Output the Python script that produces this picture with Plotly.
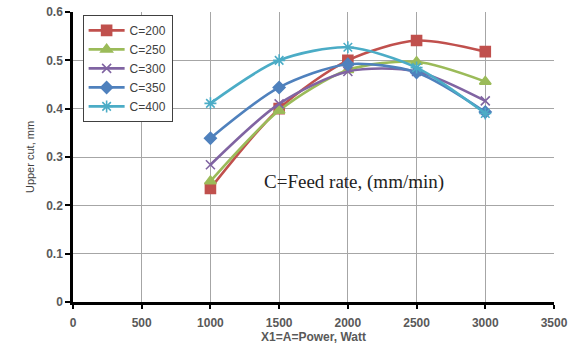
import plotly.graph_objects as go

# Upper cut vs laser power for several feed rates
power = [1000, 1500, 2000, 2500, 3000]
c200 = [0.235, 0.400, 0.500, 0.541, 0.518]
c250 = [0.250, 0.396, 0.480, 0.497, 0.456]
c300 = [0.284, 0.410, 0.477, 0.477, 0.416]
c350 = [0.339, 0.444, 0.492, 0.475, 0.393]
c400 = [0.411, 0.500, 0.527, 0.485, 0.390]

series = [
    ("C=200", c200, "#C0504D", "square", 10),
    ("C=250", c250, "#9BBB59", "triangle-up", 10),
    ("C=300", c300, "#8064A2", "x-thin-open", 9),
    ("C=350", c350, "#4F81BD", "diamond", 9),
    ("C=400", c400, "#4BACC6", "asterisk-open", 10),
]

fig = go.Figure()
for name, vals, color, sym, size in series:
    fig.add_trace(go.Scatter(
        x=power, y=vals, name=name, mode="lines+markers",
        line=dict(color=color, width=2.6, shape="spline", smoothing=0.8),
        marker=dict(symbol=sym, size=size, color=color,
                    line=dict(color=color, width=1.6)),
    ))

tick_font = dict(family="Arial, Liberation Sans", size=12, color="#595959", weight="bold")

fig.update_layout(
    width=575, height=352,
    margin=dict(l=73, r=21, t=12, b=50, autoexpand=False),
    paper_bgcolor="white", plot_bgcolor="white",
    showlegend=True,
    legend=dict(x=0.02, y=0.99, xanchor="left", yanchor="top",
                bgcolor="white", bordercolor="#404040", borderwidth=1,
                font=dict(family="Arial, Liberation Sans", size=12, color="#404040"),
                tracegroupgap=0, itemwidth=36),
    annotations=[dict(
        x=0.585, y=0.415, xref="paper", yref="paper", showarrow=False,
        text="C=Feed rate, (mm/min)",
        font=dict(family="Liberation Serif, Times New Roman", size=19, color="#222222"),
    )],
)
fig.update_xaxes(
    range=[0, 3500], dtick=500, tickfont=tick_font,
    showgrid=True, gridcolor="#A6A6A6", gridwidth=1,
    showline=True, linecolor="black", linewidth=2.5,
    ticks="outside", tickcolor="black", ticklen=4, tickwidth=2,
    ticklabelstandoff=4,
    zeroline=False,
    title=dict(text="X1=A=Power, Watt", font=tick_font, standoff=4),
)
fig.update_yaxes(
    range=[0, 0.6], dtick=0.1, tickfont=tick_font,
    showgrid=True, gridcolor="#A6A6A6", gridwidth=1,
    showline=True, linecolor="black", linewidth=2.5,
    ticks="outside", tickcolor="black", ticklen=5, tickwidth=2,
    zeroline=False,
    title=dict(text="Upper cut, mm",
               font=dict(family="Arial, Liberation Sans", size=11, color="#404040"),
               standoff=10),
)

fig.write_html("out.html")
